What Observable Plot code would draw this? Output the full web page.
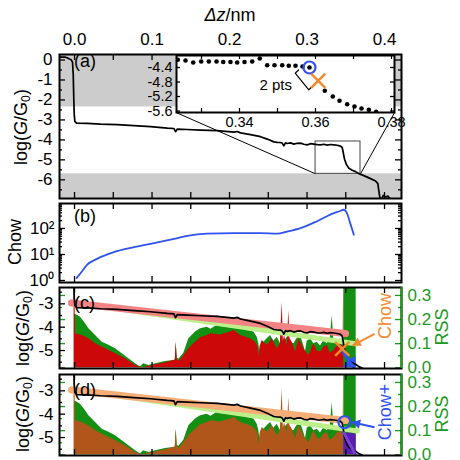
<!DOCTYPE html>
<html><head><meta charset="utf-8">
<script src="https://cdn.jsdelivr.net/npm/d3@7"></script>
<script src="https://cdn.jsdelivr.net/npm/@observablehq/plot@0.6"></script>
<style>
body{margin:0;background:#fff;}
#chart{position:relative;width:460px;height:460px;overflow:hidden;background:#fff;font-family:"Liberation Sans",Arial,Helvetica,sans-serif;color:#000;}
.lbl{position:absolute;white-space:nowrap;font-size:18px;line-height:1;}
.rot{transform:translate(-50%,-50%) rotate(-90deg);}
.sub{font-size:0.68em;vertical-align:-0.28em;}
</style></head><body><div id="chart"></div>
<script>
// ---------- data ----------
// (a) conductance trace: [Δz (nm), log(G/G0)]
const gTrace = [[-0.0194,0.14],[-0.0116,0.14],[-0.0095,0.11],[-0.0073,0.06],[-0.0043,0.01],[-0.0026,-0.11],[-0.0017,-0.70],[-0.0013,-1.37],[-0.0009,-2.04],[-0.0004,-2.71],[0.0004,-3.07],[0.0026,-3.16],[0.0164,-3.17],[0.0336,-3.21],[0.0551,-3.24],[0.0766,-3.29],[0.0981,-3.34],[0.1196,-3.41],[0.1282,-3.43],[0.1303,-3.59],[0.1325,-3.46],[0.1454,-3.48],[0.1626,-3.51],[0.1841,-3.54],[0.2056,-3.61],[0.2099,-3.58],[0.2142,-3.65],[0.2271,-3.74],[0.24,-3.84],[0.2486,-3.96],[0.2572,-4.10],[0.2615,-4.12],[0.2658,-4.13],[0.268,-4.16],[0.2701,-4.30],[0.2722,-4.15],[0.2744,-4.18],[0.2787,-4.15],[0.283,-4.21],[0.2873,-4.17],[0.2916,-4.16],[0.2959,-4.22],[0.3002,-4.25],[0.3045,-4.19],[0.3088,-4.21],[0.3131,-4.24],[0.3174,-4.25],[0.3217,-4.22],[0.326,-4.26],[0.3303,-4.23],[0.3346,-4.25],[0.3389,-4.27],[0.3432,-4.31],[0.3454,-4.38],[0.3467,-4.63],[0.3484,-4.97],[0.351,-5.25],[0.354,-5.42],[0.3583,-5.52],[0.3626,-5.59],[0.3669,-5.69],[0.3733,-5.79],[0.3819,-5.94],[0.3884,-6.06],[0.3914,-6.19],[0.3927,-6.56],[0.394,-6.89],[0.3957,-7.03],[0.3983,-6.78],[0.4013,-6.86],[0.4043,-6.81],[0.4077,-6.98],[0.412,-7.05],[0.4219,-7.1]];
// shaded ranges of log(G/G0) in (a)
const grayBands = [{lo:-2.35,hi:0.4},{lo:-7.2,hi:-5.70}];
// zoom box in (a)
const zoomBox = {z1:0.311,z2:0.369,v1:-5.70,v2:-4.08};
// inset points: [Δz, log(G/G0)]
const insetPts = [[0.32376,-4.188],[0.32579,-4.207],[0.32782,-4.262],[0.32992,-4.234],[0.33192,-4.234],[0.33395,-4.234],[0.33571,-4.248],[0.33763,-4.248],[0.33939,-4.262],[0.34132,-4.248],[0.34334,-4.234],[0.34534,-4.152],[0.34729,-4.337],[0.34921,-4.337],[0.35124,-4.337],[0.35297,-4.353],[0.35474,-4.353],[0.35658,-4.372],[0.35842,-4.4],[0.36245,-5.043],[0.36455,-5.2],[0.36632,-5.319],[0.36834,-5.412],[0.37026,-5.476],[0.3721,-5.531],[0.37403,-5.567],[0.37597,-5.622]];
const insetChowPlus = [0.35842,-4.4];
const insetChow = [0.36071,-4.767];
const insetBracket = [[0.35553,-4.469],[0.35466,-4.557],[0.35824,-5.015],[0.35913,-4.924]];
// (b) Chow statistic
const chowStat = [[0.0026,1.23],[0.0077,1.9],[0.0164,4.1],[0.029,6.8],[0.0507,12.3],[0.0765,19],[0.098,25.7],[0.128,40],[0.1454,52],[0.171,63],[0.2056,66],[0.24,66],[0.2615,63],[0.2744,76],[0.2916,103],[0.313,190],[0.3346,390],[0.341,450],[0.3475,525],[0.352,360],[0.356,150],[0.3604,57]];
// (c,d) RSS series: [Δz, RSS]
const rssAll = [[0,0.22],[0.0013,0.222],[0.0077,0.21],[0.0142,0.183],[0.0185,0.162],[0.0271,0.134],[0.0357,0.106],[0.0443,0.093],[0.0529,0.079],[0.0615,0.058],[0.0701,0.037],[0.0787,0.017],[0.0852,0.003],[0.0874,0.012],[0.0894,0.017],[0.0959,0.0095],[0.1045,0.017],[0.1174,0.026],[0.1281,0.03],[0.13,0.032],[0.1312,0.106],[0.1325,0.04],[0.1346,0.035],[0.141,0.06],[0.1475,0.12],[0.1561,0.148],[0.1626,0.162],[0.1712,0.168],[0.176,0.16],[0.1841,0.176],[0.19,0.17],[0.197,0.168],[0.2056,0.164],[0.2077,0.21],[0.2099,0.162],[0.216,0.165],[0.2228,0.155],[0.2314,0.148],[0.2357,0.127],[0.2378,0.1],[0.24,0.044],[0.2421,0.085],[0.2443,0.106],[0.2486,0.12],[0.2529,0.134],[0.2572,0.11],[0.2615,0.127],[0.2658,0.1],[0.268,0.093],[0.2744,0.127],[0.279,0.105],[0.283,0.1],[0.287,0.12],[0.2916,0.134],[0.296,0.09],[0.298,0.065],[0.3002,0.11],[0.3045,0.12],[0.3088,0.1],[0.3131,0.106],[0.3174,0.09],[0.3217,0.113],[0.326,0.1],[0.33,0.12],[0.3325,0.217],[0.3346,0.113],[0.339,0.105],[0.3432,0.12],[0.3475,0.1],[0.3476,0.4],[0.3634,0.4],[0.3635,0]];
const rssChow = [[-0.0006,0.4],[0,0.4],[0.0013,0.141],[0.0099,0.134],[0.0185,0.12],[0.0271,0.1],[0.04,0.079],[0.0529,0.058],[0.0658,0.037],[0.0787,0.0095],[0.0874,0.0],[0.1003,0.0095],[0.1174,0.021],[0.1281,0.03],[0.13,0.032],[0.1312,0.106],[0.1325,0.035],[0.1346,0.026],[0.141,0.05],[0.1475,0.079],[0.154,0.1],[0.1626,0.125],[0.1712,0.134],[0.1755,0.141],[0.1884,0.136],[0.2013,0.148],[0.2056,0.155],[0.2142,0.134],[0.2271,0.12],[0.2335,0.106],[0.2365,0.09],[0.2378,0.044],[0.2395,0.09],[0.2422,0.113],[0.2486,0.093],[0.2551,0.12],[0.2615,0.079],[0.2655,0.1],[0.268,0.272],[0.2695,0.11],[0.271,0.134],[0.2744,0.09],[0.2765,0.238],[0.278,0.12],[0.2809,0.106],[0.2852,0.065],[0.2894,0.12],[0.2959,0.079],[0.3023,0.051],[0.3088,0.1],[0.3131,0.07],[0.3174,0.065],[0.3217,0.085],[0.326,0.093],[0.33,0.06],[0.3346,0.072],[0.339,0.09],[0.3432,0.1],[0.3465,0.079],[0.3474,0.4]];
const rssAfterChow = [[0.3475,0],[0.3495,0.015],[0.3535,0.03],[0.358,0.04],[0.3634,0.045]];
const rssAfterChowPlus = [[0.3475,0.085],[0.355,0.09],[0.3634,0.085]];
// fitted lines: [Δz, log(G/G0)]
const fitAll = [[-0.004,-2.92],[0.365,-4.72]];
const fitBefore = [[-0.004,-2.96],[0.3497,-4.275]];
const fitAfterChow = [[0.346,-5.05],[0.366,-6.0]];
const fitAfterChowPlus = [[0.3475,-4.8],[0.366,-5.95]];
const chowPoint = [0.3454,-4.929];
const chowPlusPoint = [0.3484,-4.346];
// tick values / labels
const xTickVals = [0,0.05,0.1,0.15,0.2,0.25,0.3,0.35,0.4];
const xLabelVals = [0,0.1,0.2,0.3,0.4];
const aYLabels = [0,-1,-2,-3,-4,-5,-6];
const aYMinor = [-0.5,-1.5,-2.5,-3.5,-4.5,-5.5,-6.5];
const bYLabels = [1,10,100];
const bYText = ["10⁰","10¹","10²"];
const bYMinor = [2,3,4,5,6,7,8,9,20,30,40,50,60,70,80,90,200,300,400,500,600,700,800,900];
const cdYLabels = [-3,-4,-5];
const cdYMinor = [-2.5,-3.5,-4.5,-5.5];
const rssLabels = [0,0.1,0.2,0.3];
const rssMinor = [0.05,0.15,0.25];
const insetXTicks = [0.33,0.34,0.35,0.36,0.37,0.38];
const insetXLabels = [0.34,0.36,0.38];
const insetYLabels = [-4.4,-4.8,-5.2,-5.6];

// ---------- layout ----------
const FONT = '"Liberation Sans", Arial, Helvetica, sans-serif';
const W = 460, ML = 59, MR = 59, FW = W - ML - MR;
const XDOM = [-0.0194, 0.4219];
const C = {green:"#138f13", red:"#cc0808", brown:"#b0561a", blue:"#2f52f0", purpleFill:"#5b1cb0", purple:"#7d3fd6",
  light:"#bdf08a", pink:"#f48484", peach:"#f5ae78", orange:"#f28a2e", gtxt:"#1b9a1b", gray:"#cccccc"};
const chart = document.getElementById("chart");
function place(svg, top){
  Object.assign(svg.style,{position:"absolute",left:"0px",top:top+"px",overflow:"visible",background:"transparent",maxWidth:"none"});
  chart.appendChild(svg);
}
const X = d => d[0], Y = d => d[1];
function xTicks(fh, len=6){ return [
  Plot.ruleX(xTickVals,{insetBottom:fh-len,strokeWidth:1.3}),
  Plot.ruleX(xTickVals,{insetTop:fh-len,strokeWidth:1.3})];}
function yTicks(vals, len, opts={}, fw=FW){ return [
  Plot.ruleY(vals,{insetRight:fw-len,strokeWidth:1.3,...opts}),
  Plot.ruleY(vals,{insetLeft:fw-len,strokeWidth:1.3,...opts})];}
const baseStyle = (fs="17px") => ({fontFamily:FONT,fontSize:fs,background:"transparent",overflow:"visible",color:"black"});

// (a)
const pa = Plot.plot({
  width:W,height:200,marginLeft:ML,marginRight:MR,marginTop:54,marginBottom:2,
  x:{domain:XDOM}, y:{domain:[-6.935,0.276]}, style:baseStyle(),
  marks:[
    Plot.rect(grayBands,{x1:XDOM[0],x2:XDOM[1],y1:"lo",y2:"hi",fill:C.gray,clip:true}),
    Plot.link([zoomBox],{x1:"z1",y1:"v1",x2:0.1316,y2:-2.638,stroke:"black",strokeWidth:1}),
    Plot.link([zoomBox],{x1:"z2",y1:"v1",x2:0.4129,y2:-2.638,stroke:"black",strokeWidth:1}),
    Plot.rect([zoomBox],{x1:"z1",x2:"z2",y1:"v1",y2:"v2",fill:"none",stroke:"#444",strokeWidth:1}),
    Plot.line(gTrace,{x:X,y:Y,stroke:"black",strokeWidth:1.7,clip:true}),
    Plot.frame({strokeWidth:2}),
    ...xTicks(144), ...yTicks(aYLabels,6), ...yTicks(aYMinor,3),
    Plot.axisX({anchor:"top",ticks:xLabelVals,tickSize:0,tickPadding:10,tickFormat:d3.format(".1f"),label:null}),
    Plot.axisY({anchor:"left",ticks:aYLabels,tickSize:0,tickPadding:7,tickFormat:d=>String(d),label:null})
  ]});
place(pa,0);

// inset
const IFW = 394-176;
const pi = Plot.plot({
  width:W,height:90,marginLeft:176,marginRight:W-394,marginTop:15,marginBottom:18,
  x:{domain:[0.32342,0.38079]}, y:{domain:[-5.641,-4.069]}, style:baseStyle("14.5px"),
  marks:[
    Plot.frame({fill:"white",stroke:"none"}),
    Plot.line(insetBracket,{x:X,y:Y,stroke:"black",strokeWidth:1.2}),
    Plot.dot(insetPts,{x:X,y:Y,r:2.3,fill:"black",clip:true}),
    Plot.dot([insetChowPlus],{x:X,y:Y,r:6,stroke:C.blue,strokeWidth:2.2,fill:"none"}),
    Plot.dot([insetChow],{x:X,y:Y,r:6.5,symbol:"times",stroke:C.orange,strokeWidth:2.5}),
    Plot.frame({strokeWidth:2}),
    Plot.ruleX(insetXTicks,{insetBottom:57-4,strokeWidth:1.2}),
    Plot.ruleX(insetXTicks,{insetTop:57-4,strokeWidth:1.2}),
    ...yTicks(insetYLabels,4,{},IFW),
    Plot.axisX({anchor:"bottom",ticks:insetXLabels,tickSize:0,tickPadding:4,tickFormat:d3.format(".2f"),label:null}),
    Plot.axisY({anchor:"left",ticks:insetYLabels,tickSize:0,tickPadding:4,tickFormat:d=>String(d),label:null})
  ]});
place(pi,40);

// (b)
const pb = Plot.plot({
  width:W,height:86,marginLeft:ML,marginRight:MR,marginTop:4,marginBottom:3,
  x:{domain:XDOM,axis:null}, y:{type:"log",domain:[0.838,912]}, style:baseStyle(),
  marks:[
    Plot.line(chowStat,{x:X,y:Y,stroke:C.blue,strokeWidth:1.8,curve:"monotone-x"}),
    Plot.frame({strokeWidth:2}),
    ...xTicks(79), ...yTicks(bYLabels,6), ...yTicks(bYMinor,3),
    Plot.axisY({anchor:"left",ticks:bYLabels,tickSize:0,tickPadding:5,tickFormat:d=>bYText[bYLabels.indexOf(d)],label:null})
  ]});
place(pb,199);

// (c),(d)
function rssPanel(top, fillMain, fillAfter, after){
  const p = Plot.plot({
    width:W,height:87,marginLeft:ML,marginRight:MR,marginTop:3,marginBottom:3,
    x:{domain:XDOM,axis:null}, y:{domain:[-0.003,0.333]}, style:baseStyle(),
    marks:[
      Plot.areaY(rssAll,{x:X,y:Y,fill:C.green,clip:true}),
      Plot.areaY(rssChow,{x:X,y:Y,fill:fillMain,clip:true}),
      Plot.areaY(after,{x:X,y:Y,fill:fillAfter,clip:true}),
      ...yTicks(rssLabels,6,{stroke:C.gtxt}), ...yTicks(rssMinor,3,{stroke:C.gtxt}),
      Plot.axisY({anchor:"right",ticks:rssLabels,tickSize:0,tickPadding:6,tickFormat:d3.format(".1f"),color:C.gtxt,label:null})
    ]});
  place(p,top);
}
function logPanel(top, fitColor, afterFit, afterColor, extra){
  const p = Plot.plot({
    width:W,height:87,marginLeft:ML,marginRight:MR,marginTop:3,marginBottom:3,
    x:{domain:XDOM,axis:null}, y:{domain:[-5.77,-2.30]}, style:baseStyle(),
    marks:[
      Plot.line(fitAll,{x:X,y:Y,stroke:C.light,strokeWidth:5,clip:true}),
      Plot.line(fitBefore,{x:X,y:Y,stroke:fitColor,strokeWidth:7,strokeLinecap:"round",clip:true}),
      Plot.line(gTrace,{x:X,y:Y,stroke:"black",strokeWidth:1.7,clip:true}),
      Plot.line(afterFit,{x:X,y:Y,stroke:afterColor,strokeWidth:3,clip:true}),
      ...extra,
      Plot.frame({strokeWidth:2}),
      Plot.ruleX([XDOM[1]],{stroke:C.gtxt,strokeWidth:2}),
      ...xTicks(81), ...yTicks(cdYLabels,6).slice(0,1), ...yTicks(cdYMinor,3).slice(0,1),
      Plot.axisY({anchor:"left",ticks:cdYLabels,tickSize:0,tickPadding:6,tickFormat:d=>String(d),label:null})
    ]});
  place(p,top);
}
const arrowC = {x1:0.3871,y1:-4.286,x2:0.3587,y2:-4.787};
const arrowD = {x1:0.3871,y1:-4.56,x2:0.358,y2:-4.346};
rssPanel(284, C.red, C.blue, rssAfterChow);
logPanel(284, C.pink, fitAfterChow, C.blue, [
  Plot.dot([chowPoint],{x:X,y:Y,r:6.5,symbol:"times",stroke:C.orange,strokeWidth:2.5}),
  Plot.link([arrowC],{x1:"x1",y1:"y1",x2:"x2",y2:"y2",stroke:C.orange,strokeWidth:2}),
  Plot.dot([arrowC],{x:"x2",y:"y2",symbol:"triangle",r:3.5,fill:C.orange,rotate:-118,dx:4.8,dy:-2.6})
]);
rssPanel(371, C.brown, C.purpleFill, rssAfterChowPlus);
logPanel(371, C.peach, fitAfterChowPlus, C.purple, [
  Plot.dot([chowPlusPoint],{x:X,y:Y,r:6,stroke:C.blue,strokeWidth:2.2,fill:"none"}),
  Plot.link([arrowD],{x1:"x1",y1:"y1",x2:"x2",y2:"y2",stroke:C.blue,strokeWidth:2}),
  Plot.dot([arrowD],{x:"x2",y:"y2",symbol:"triangle",r:3.5,fill:C.blue,rotate:-77,dx:5.3,dy:1.2})
]);

// ---------- text ----------
function label(html, cx, cy, opts={}){
  const d = document.createElement("div");
  d.className = "lbl" + (opts.rot ? " rot" : "");
  d.innerHTML = html;
  if (opts.size) d.style.fontSize = opts.size + "px";
  if (opts.color) d.style.color = opts.color;
  d.style.left = cx + "px"; d.style.top = cy + "px";
  if (!opts.rot) d.style.transform = opts.align === "right" ? "translate(-100%,-50%)" : opts.align === "left" ? "translate(0,-50%)" : "translate(-50%,-50%)";
  chart.appendChild(d);
}
const logLabel = 'log(<i>G</i>/G<span class="sub">0</span>)';
label('<i>Δz</i>/nm', 230, 15);
label(logLabel, 22, 127, {rot:true});
label('Chow', 15, 242, {rot:true});
label(logLabel, 24, 328, {rot:true});
label(logLabel, 24, 414, {rot:true});
label('(a)', 74, 61, {align:"left"});
label('(b)', 74, 216, {align:"left"});
label('(c)', 74, 303, {align:"left"});
label('(d)', 74, 390, {align:"left"});
label('2 pts', 292, 84, {align:"right", size:15});
label('Chow', 385, 316, {rot:true, color:C.orange});
label('RSS', 442, 327, {rot:true, color:C.gtxt});
label('Chow+', 385, 412, {rot:true, color:C.blue});
label('RSS', 442, 414, {rot:true, color:C.gtxt});
</script></body></html>
